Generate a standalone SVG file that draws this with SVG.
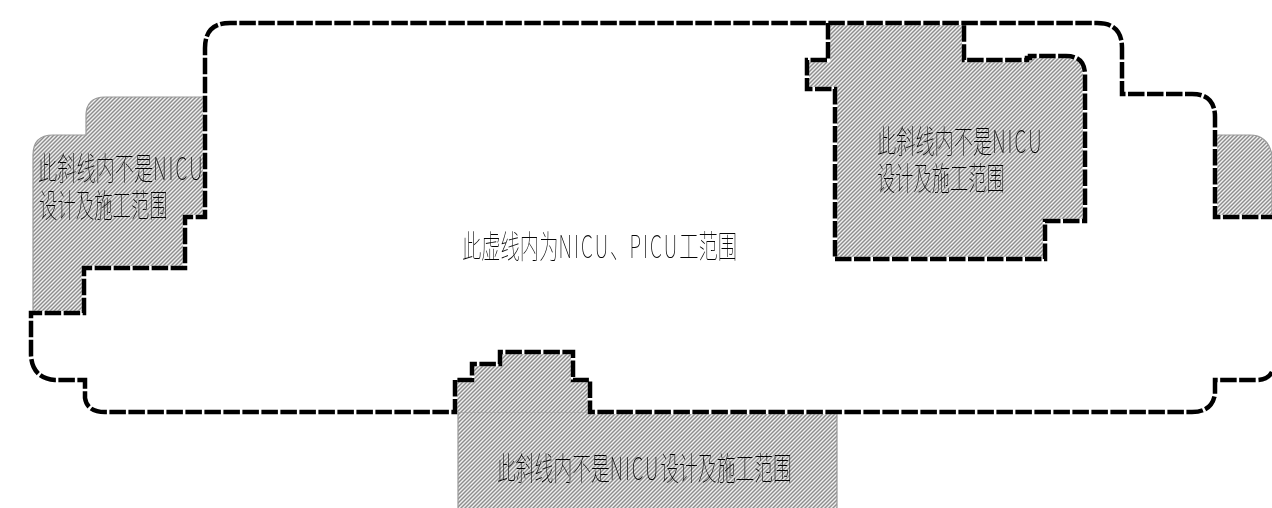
<svg xmlns="http://www.w3.org/2000/svg" width="1272" height="508" viewBox="0 0 1272 508">
<style>
text{font-family:"Noto Sans CJK SC","Liberation Sans",sans-serif;font-size:32px;font-weight:100;fill:#000}
.l{letter-spacing:3.4px}
.h{fill:url(#hatch);stroke:#999;stroke-width:1.2}
.g{fill:none;stroke:#999;stroke-width:1.5}
.w{fill:none;stroke:#fff;stroke-width:4.5;stroke-linejoin:miter}
.b{fill:none;stroke:#000;stroke-width:4.5;stroke-dasharray:16.5 2.5;stroke-linejoin:miter}
</style>
<defs>
<pattern id="hatch" patternUnits="userSpaceOnUse" width="2.8284" height="2.8284" patternTransform="rotate(45)">
<rect width="2.8284" height="2.8284" fill="#fff"/>
<rect width="1.4" height="2.8284" fill="#7c7c7c"/>
</pattern>
<path id="outer" d="M1272 372Q1268 380 1256 380H1215V394Q1212 412 1192 412H590V380H573V352H500V364H472V380H455V412H105Q87 412 85 398V380H55Q32 378 31 355V313H84V268H185V217H205V48Q205 23 230 23H1097Q1122 23 1122 48V94H1192Q1215 94 1215 117V217H1272"/>
<path id="inner" d="M828 23V60H807V89H835V259H1045V221H1085V75Q1085 56 1066 56H1030V58H1027V60H964V23"/>
</defs>
<g id="area-left"><path class="h" d="M33 312V155Q33 135 53 135H86V116Q86 97 105 97H205V217H185V268H84V313H33Z"/></g>
<g id="area-right"><path class="h" d="M1272 155Q1268 135 1250 135H1215V217H1272Z"/></g>
<g id="area-bottom"><path class="h" d="M458 508V412H837V508"/><path class="h" style="stroke:none" d="M455 412V380H472V364H500V352H573V380H590V412Z"/></g>
<g id="area-nicu"><path class="h" style="stroke:none" d="M828 23V60H807V89H835V259H1045V221H1085V75Q1085 56 1066 56H1030V58H1027V60H964V23Z"/></g>
<g id="connectors">
<use href="#outer" class="g" transform="translate(.8 1.2)"/>
<use href="#outer" class="w"/>
<use href="#inner" class="w"/>
<use href="#outer" class="b"/>
<use href="#inner" class="b"/>
</g>
<g id="labels" opacity=".98">
<text transform="translate(38 180) scale(.6 1)">此斜线内不是<tspan class="l">NICU</tspan></text>
<text transform="translate(39 217) scale(.575 1)">设计及施工范围</text>
<text transform="translate(877 153) scale(.6 1)">此斜线内不是<tspan class="l">NICU</tspan></text>
<text transform="translate(877 190) scale(.57 1)">设计及施工范围</text>
<text transform="translate(497 480) scale(.588 1)">此斜线内不是<tspan class="l">NICU</tspan>设计及施工范围</text>
<text transform="translate(462 258) scale(.603 1)">此虚线内为<tspan class="l">NICU</tspan>、<tspan class="l">PICU</tspan>工范围</text>
</g>
</svg>
